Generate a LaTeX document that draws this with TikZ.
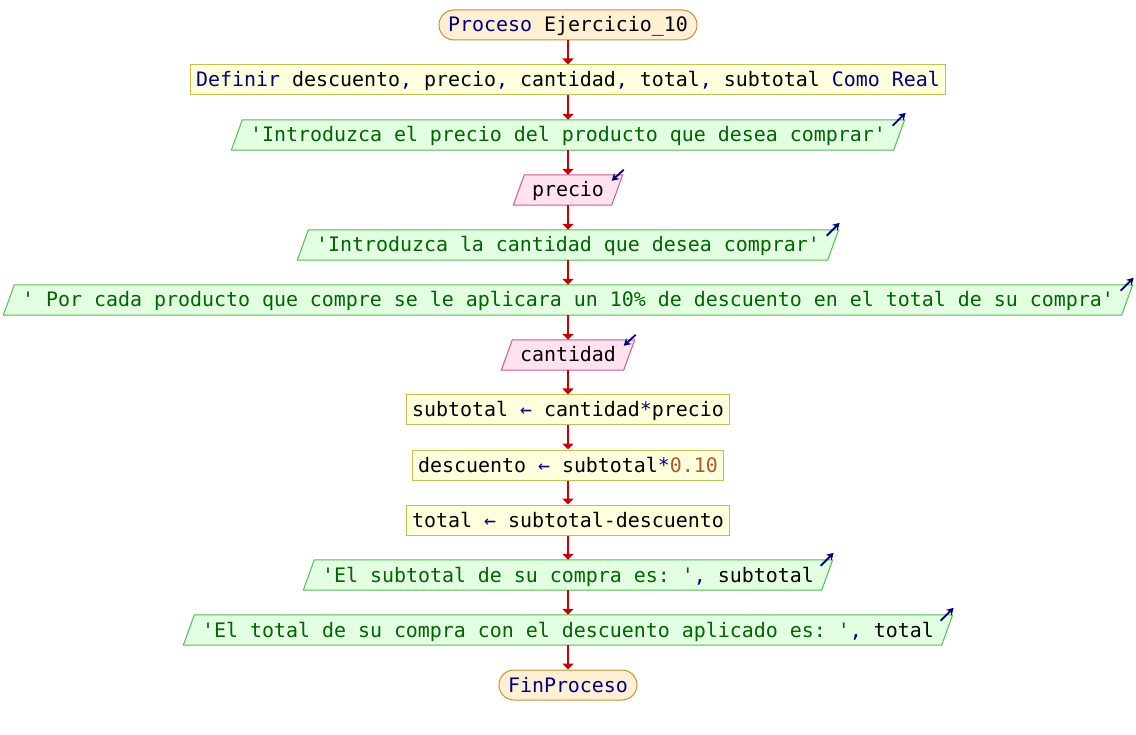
\documentclass[tikz,border=0pt]{standalone}
\usepackage{fontspec}
\setmonofont{DejaVu Sans Mono}
\usetikzlibrary{arrows.meta,calc,backgrounds}
\definecolor{kwc}{RGB}{0,0,128}
\definecolor{strc}{RGB}{0,100,0}
\definecolor{numc}{RGB}{170,90,40}
\definecolor{termf}{RGB}{255,240,212}
\definecolor{termd}{RGB}{200,140,60}
\definecolor{procf}{RGB}{255,255,221}
\definecolor{procd}{RGB}{200,190,80}
\definecolor{outf}{RGB}{226,255,226}
\definecolor{outd}{RGB}{80,190,80}
\definecolor{inf}{RGB}{255,226,240}
\definecolor{ind}{RGB}{210,90,140}
\definecolor{flowc}{RGB}{204,0,0}
\newcommand\kw[1]{\textcolor{kwc}{#1}}
\newcommand\st[1]{\textcolor{strc}{#1}}
\newcommand\nm[1]{\textcolor{numc}{#1}}
\newcommand\iopar[3]{\path[fill=#2,draw=#3,line width=1pt]
  ($(#1.south west)+(-5.5,0)$) -- ($(#1.south east)+(-5.5,0)$) --
  ($(#1.north east)+(5.5,0)$) -- ($(#1.north west)+(5.5,0)$) -- cycle;}
\newcommand\outmark[1]{\draw[ioarrow] ($(#1.north east)+(-6.5,-6)$) -- ++(13,13);}
\newcommand\inmark[1]{\draw[ioarrow] ($(#1.north east)+(6.5,5)$) -- ++(-12,-11);}
\begin{document}
\begin{tikzpicture}[x=1pt,y=1pt,
  base/.style={font=\ttfamily\frenchspacing\fontsize{19.93}{24}\selectfont,
    text height=16pt, text depth=2pt, inner ysep=6pt, minimum height=30pt, anchor=center},
  term/.style={base, inner xsep=9pt, draw=termd, fill=termf, rounded corners=15pt, line width=1pt},
  proc/.style={base, inner xsep=6pt, draw=procd, fill=procf, line width=1pt},
  io/.style={base, inner xsep=13pt},
  flow/.style={draw=flowc, line width=1.8pt, -{Triangle[length=6pt,width=11pt]}},
  ioarrow/.style={draw=kwc, line width=1.8pt, -{Stealth[length=7pt,width=8pt]}}]
\useasboundingbox (0,0) rectangle (1136,-735);
\node[term] (n0) at (568,-25) {\kw{Proceso} Ejercicio\_10};
\node[proc] (n1) at (568,-80) {\kw{Definir} descuento\kw{,} precio\kw{,} cantidad\kw{,} total\kw{,} subtotal \kw{Como Real}};
\node[io] (n2) at (568,-135) {\st{'Introduzca el precio del producto que desea comprar'}};
\node[io] (n3) at (568,-190) {precio};
\node[io] (n4) at (568,-245) {\st{'Introduzca la cantidad que desea comprar'}};
\node[io] (n5) at (568,-300) {\st{' Por cada producto que compre se le aplicara un 10\% de descuento en el total de su compra'}};
\node[io] (n6) at (568,-355) {cantidad};
\node[proc] (n7) at (568,-410) {subtotal \kw{←} cantidad\kw{*}precio};
\node[proc] (n8) at (568,-465) {descuento \kw{←} subtotal\kw{*}\nm{0.10}};
\node[proc] (n9) at (568,-520) {total \kw{←} subtotal-descuento};
\node[io] (n10) at (568,-575) {\st{'El subtotal de su compra es: '}\kw{,} subtotal};
\node[io] (n11) at (568,-630) {\st{'El total de su compra con el descuento aplicado es: '}\kw{,} total};
\node[term] (n12) at (568,-685) {\kw{FinProceso}};
\begin{pgfonlayer}{background}
  \iopar{n2}{outf}{outd}
  \iopar{n3}{inf}{ind}
  \iopar{n4}{outf}{outd}
  \iopar{n5}{outf}{outd}
  \iopar{n6}{inf}{ind}
  \iopar{n10}{outf}{outd}
  \iopar{n11}{outf}{outd}
\end{pgfonlayer}
\outmark{n2}
\inmark{n3}
\outmark{n4}
\outmark{n5}
\inmark{n6}
\outmark{n10}
\outmark{n11}
\foreach \a/\b in {n0/n1,n1/n2,n2/n3,n3/n4,n4/n5,n5/n6,n6/n7,n7/n8,n8/n9,n9/n10,n10/n11,n11/n12}
  \draw[flow] (\a.south) -- (\b.north);
\end{tikzpicture}
\end{document}
